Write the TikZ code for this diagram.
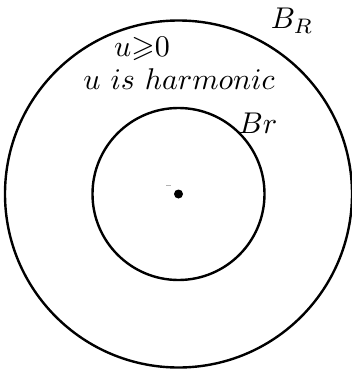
\documentclass[tikz,border=0pt]{standalone}
\usepackage{amssymb}
\begin{document}
\begin{tikzpicture}[x=1pt,y=-1pt,
  ring/.style={draw=black,line width=2.4pt},
  lbl/.style={inner sep=0pt,font=\normalsize,scale=3}]
\useasboundingbox (0,0) rectangle (351,369);
\coordinate (c) at (178.5,194);
\draw[ring] (c) circle (173.5);
\draw[ring] (c) circle (86);
\fill (c) circle (4.5);
\draw[gray!60,line width=0.8pt] (166,185) -- (171,185);
\node[lbl] (bR) at (292,21) {$B_R$};
\node[lbl] (ge) at (142,49) {$u{\geqslant}0$};
\node[lbl] (harm) at (179,79) {$u\ is\ harmonic$};
\node[lbl] (br) at (258,123) {$Br$};
\end{tikzpicture}
\end{document}
